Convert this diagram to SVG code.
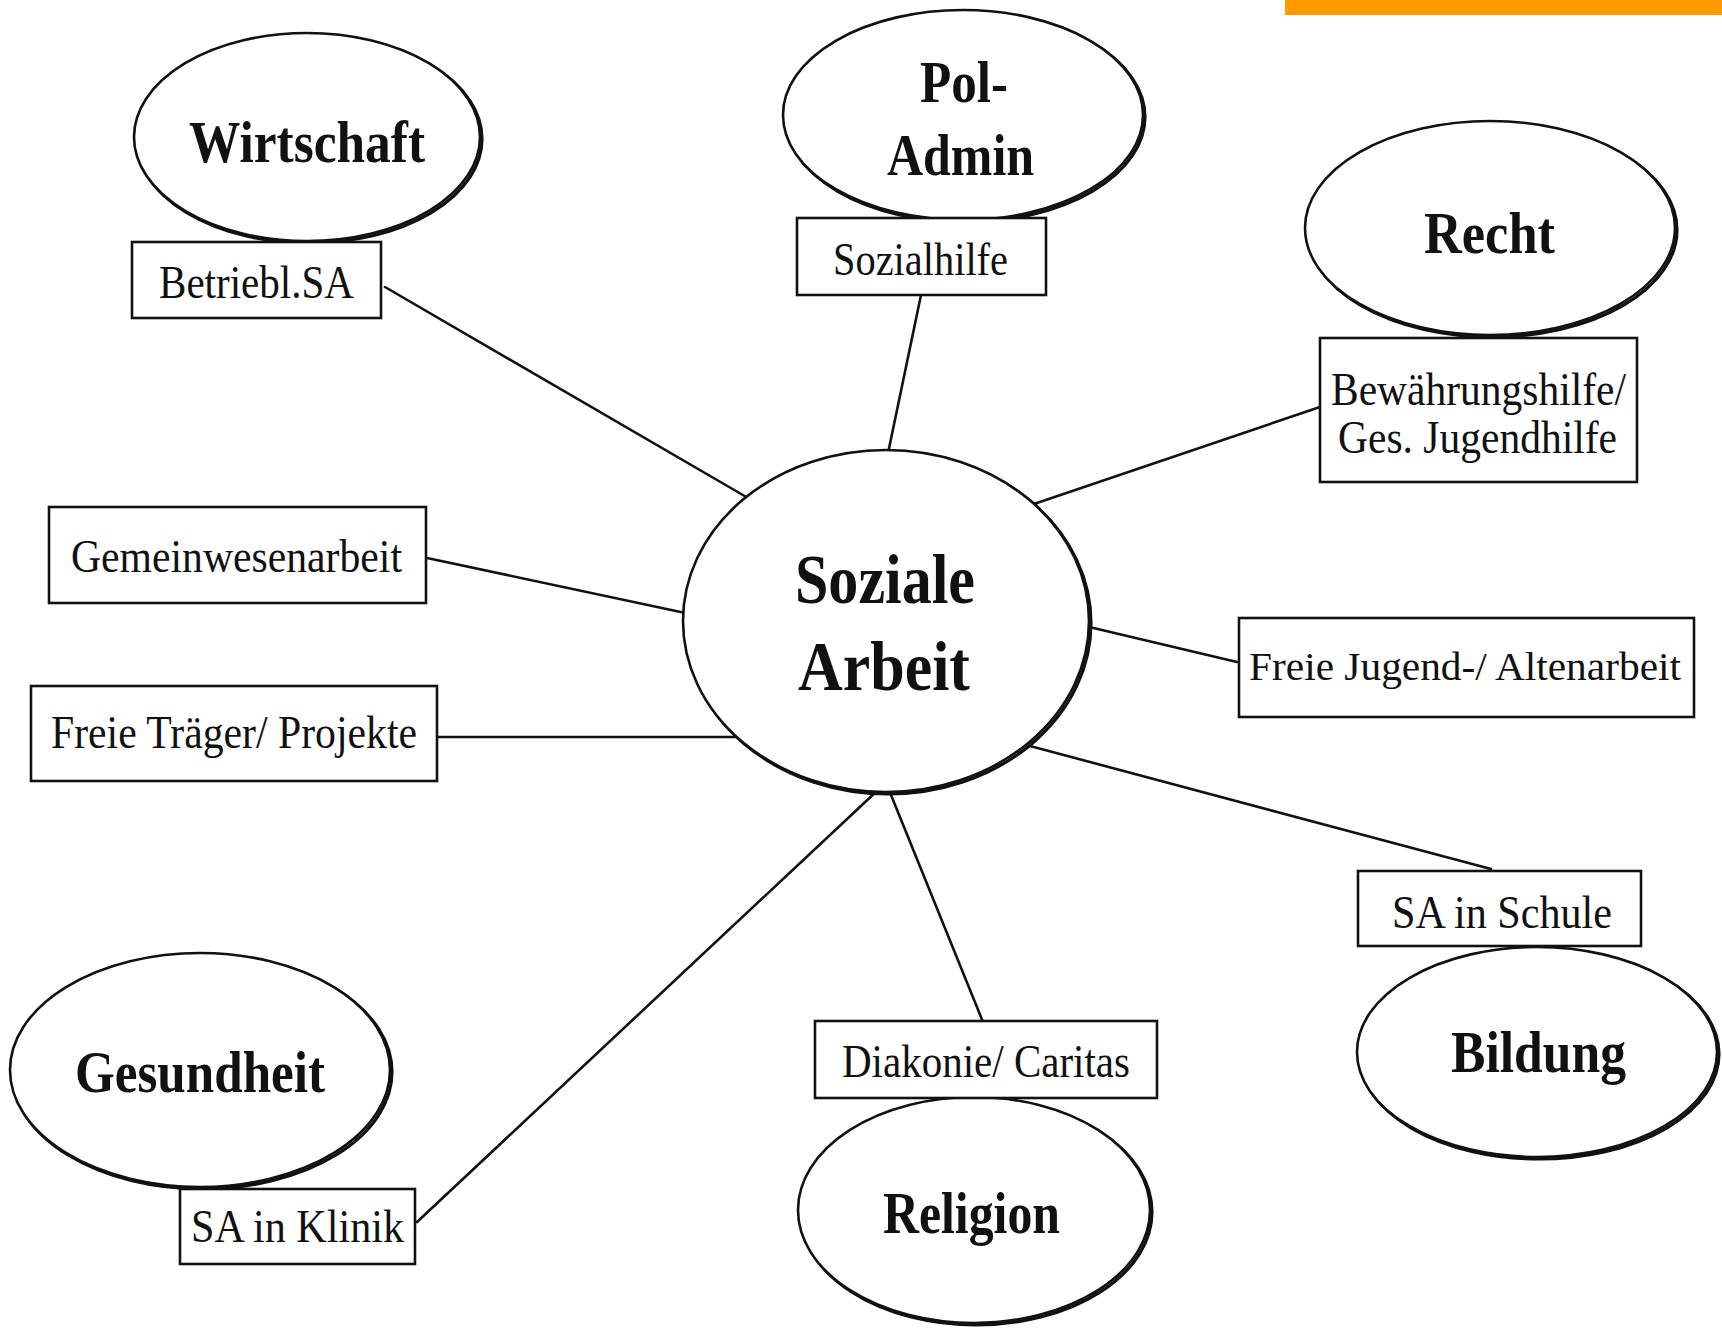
<svg xmlns="http://www.w3.org/2000/svg" width="1722" height="1333" viewBox="0 0 1722 1333">
<style>
.bg{fill:#ffffff}
.ell{fill:#ffffff;stroke:#111;stroke-width:2.6}
.sh{fill:none;stroke:#111;stroke-width:3.2}
.box{fill:#ffffff;stroke:#111;stroke-width:2.6}
.con{stroke:#111;stroke-width:2.6;fill:none;stroke-linecap:round}
.big{font-family:"Liberation Serif","Times New Roman",serif;font-weight:bold;font-size:60px;fill:#111}
.huge{font-family:"Liberation Serif","Times New Roman",serif;font-weight:bold;font-size:70px;fill:#111}
.lab{font-family:"Liberation Serif","Times New Roman",serif;font-size:47px;fill:#111}
</style>
<rect class="bg" x="0" y="0" width="1722" height="1333"/>
<rect x="1285" y="0" width="437" height="15" fill="#FF9A00"/>
<g id="connectors">
<line class="con" x1="385" y1="287" x2="748" y2="498"/>
<line class="con" x1="921" y1="295" x2="887" y2="458"/>
<line class="con" x1="1320" y1="407" x2="1028" y2="506"/>
<line class="con" x1="427" y1="558" x2="690" y2="614"/>
<line class="con" x1="438" y1="737" x2="745" y2="737"/>
<line class="con" x1="1237" y1="662" x2="1085" y2="626"/>
<line class="con" x1="1491" y1="869" x2="1030" y2="746"/>
<line class="con" x1="417" y1="1222" x2="878" y2="790"/>
<line class="con" x1="983" y1="1022" x2="889" y2="790"/>
</g>
<g id="node-wirtschaft">
<ellipse class="sh" cx="309" cy="139" rx="173" ry="104"/>
<ellipse class="ell" cx="307" cy="137" rx="173" ry="104"/>
<text class="big" x="189" y="162" textLength="236" lengthAdjust="spacingAndGlyphs">Wirtschaft</text>
</g>
<g id="node-betriebl">
<rect class="box" x="132" y="242" width="249" height="76"/>
<text class="lab" x="159" y="298" textLength="195" lengthAdjust="spacingAndGlyphs">Betriebl.SA</text>
</g>
<g id="node-poladmin">
<ellipse class="sh" cx="965" cy="117" rx="180" ry="105"/>
<ellipse class="ell" cx="963" cy="115" rx="180" ry="105"/>
<text class="big" x="920" y="102" textLength="88" lengthAdjust="spacingAndGlyphs">Pol-</text>
<text class="big" x="887" y="175" textLength="147" lengthAdjust="spacingAndGlyphs">Admin</text>
</g>
<g id="node-sozialhilfe">
<rect class="box" x="797" y="218" width="249" height="77"/>
<text class="lab" x="833" y="275" textLength="175" lengthAdjust="spacingAndGlyphs">Sozialhilfe</text>
</g>
<g id="node-recht">
<ellipse class="sh" cx="1492" cy="230" rx="185" ry="107"/>
<ellipse class="ell" cx="1490" cy="228" rx="185" ry="107"/>
<text class="big" x="1424" y="253" textLength="131" lengthAdjust="spacingAndGlyphs">Recht</text>
</g>
<g id="node-bewaehrung">
<rect class="box" x="1320" y="338" width="317" height="144"/>
<text class="lab" x="1331" y="405" textLength="295" lengthAdjust="spacingAndGlyphs">Bewährungshilfe/</text>
<text class="lab" x="1338" y="453" textLength="279" lengthAdjust="spacingAndGlyphs">Ges. Jugendhilfe</text>
</g>
<g id="node-gemeinwesen">
<rect class="box" x="49" y="507" width="377" height="96"/>
<text class="lab" x="71" y="572" textLength="331" lengthAdjust="spacingAndGlyphs">Gemeinwesenarbeit</text>
</g>
<g id="node-freietraeger">
<rect class="box" x="31" y="686" width="406" height="95"/>
<text class="lab" x="51" y="748" textLength="366" lengthAdjust="spacingAndGlyphs">Freie Träger/ Projekte</text>
</g>
<g id="node-soziale-arbeit">
<ellipse class="sh" cx="888" cy="623" rx="203" ry="171"/>
<ellipse class="ell" cx="886" cy="621" rx="203" ry="171"/>
<text class="huge" x="795" y="603" textLength="180" lengthAdjust="spacingAndGlyphs">Soziale</text>
<text class="huge" x="798" y="690" textLength="172" lengthAdjust="spacingAndGlyphs">Arbeit</text>
</g>
<g id="node-freiejugend">
<rect class="box" x="1239" y="618" width="455" height="99"/>
<text class="lab" x="1249" y="680" style="font-size:41px" textLength="432" lengthAdjust="spacingAndGlyphs">Freie Jugend-/ Altenarbeit</text>
</g>
<g id="node-saschule">
<rect class="box" x="1358" y="871" width="283" height="75"/>
<text class="lab" x="1392" y="928" textLength="220" lengthAdjust="spacingAndGlyphs">SA in Schule</text>
</g>
<g id="node-bildung">
<ellipse class="sh" cx="1539" cy="1054" rx="180" ry="105"/>
<ellipse class="ell" cx="1537" cy="1052" rx="180" ry="105"/>
<text class="big" x="1451" y="1072" textLength="175" lengthAdjust="spacingAndGlyphs">Bildung</text>
</g>
<g id="node-gesundheit">
<ellipse class="sh" cx="202" cy="1072" rx="190" ry="117"/>
<ellipse class="ell" cx="200" cy="1070" rx="190" ry="117"/>
<text class="big" x="75" y="1092" textLength="250" lengthAdjust="spacingAndGlyphs">Gesundheit</text>
</g>
<g id="node-saklinik">
<rect class="box" x="180" y="1189" width="235" height="75"/>
<text class="lab" x="191" y="1242" textLength="213" lengthAdjust="spacingAndGlyphs">SA in Klinik</text>
</g>
<g id="node-religion">
<ellipse class="sh" cx="976" cy="1212" rx="176" ry="113"/>
<ellipse class="ell" cx="974" cy="1210" rx="176" ry="113"/>
<text class="big" x="883" y="1233" textLength="177" lengthAdjust="spacingAndGlyphs">Religion</text>
</g>
<g id="node-diakonie">
<rect class="box" x="815" y="1021" width="342" height="77"/>
<text class="lab" x="842" y="1077" textLength="288" lengthAdjust="spacingAndGlyphs">Diakonie/ Caritas</text>
</g>
</svg>
